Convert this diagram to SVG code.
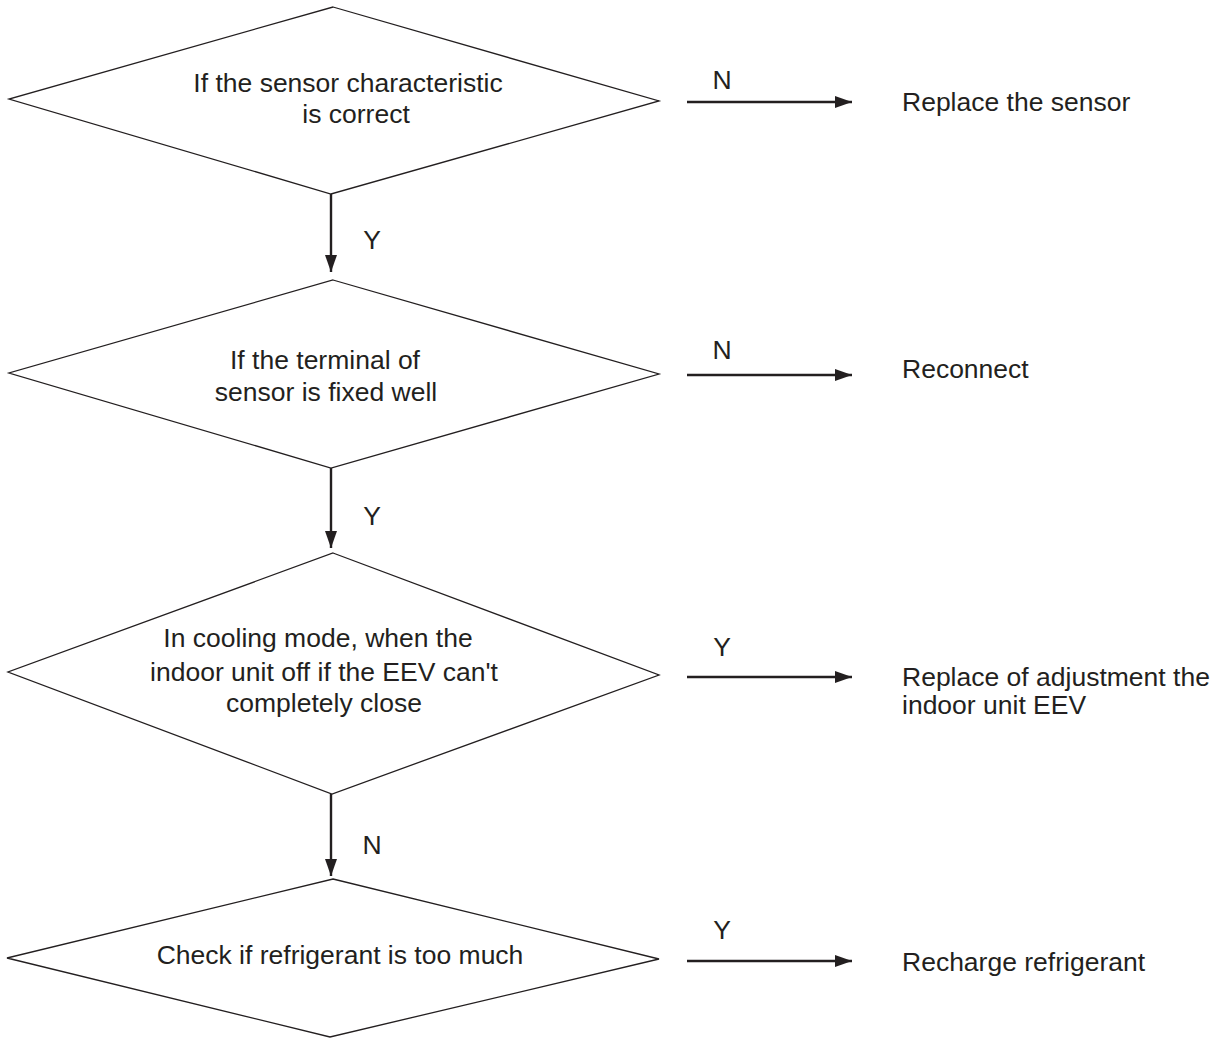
<svg xmlns="http://www.w3.org/2000/svg" width="1219" height="1038" viewBox="0 0 1219 1038">
<defs>
<marker id="ah" markerWidth="18" markerHeight="12" refX="17" refY="6" orient="auto" markerUnits="userSpaceOnUse">
<path d="M0,0 L17,6 L0,12 Z" fill="#231f20"/>
</marker>
<style>
.d{fill:#fff;stroke:#231f20;stroke-width:1.3}
.t{font-family:"Liberation Sans",Arial,sans-serif;font-size:26.5px;fill:#231f20}
.c{text-anchor:middle}
.a{stroke:#231f20;stroke-width:2.4;fill:none;marker-end:url(#ah)}
</style>
</defs>
<rect width="1219" height="1038" fill="#fff"/>
<g id="d1">
<polygon class="d" points="333,7 659,101 331,194 9,99"/>
<text class="t c" x="348" y="92">If the sensor characteristic</text>
<text class="t c" x="356" y="123">is correct</text>
</g>
<g id="r1"><text class="t" x="902" y="111">Replace the sensor</text></g>
<g id="d2">
<polygon class="d" points="333,280 659,374 331,468 9,373"/>
<text class="t c" x="325" y="369">If the terminal of</text>
<text class="t c" x="326" y="401">sensor is fixed well</text>
</g>
<g id="r2"><text class="t" x="902" y="378">Reconnect</text></g>
<g id="d3">
<polygon class="d" points="333,553 659,675 332,794 8,672"/>
<text class="t c" x="318" y="647">In cooling mode, when the</text>
<text class="t c" x="324" y="681">indoor unit off if the EEV can't</text>
<text class="t c" x="324" y="712">completely close</text>
</g>
<g id="r3">
<text class="t" x="902" y="686">Replace of adjustment the</text>
<text class="t" x="902" y="714">indoor unit EEV</text>
</g>
<g id="d4">
<polygon class="d" points="333,879 659,959 330,1037 7,958"/>
<text class="t c" x="340" y="964">Check if refrigerant is too much</text>
</g>
<g id="r4"><text class="t" x="902" y="971">Recharge refrigerant</text></g>
<g id="connectors">
<line class="a" x1="331" y1="194" x2="331" y2="272"/>
<line class="a" x1="331" y1="468" x2="331" y2="548"/>
<line class="a" x1="331" y1="794" x2="331" y2="876"/>
<line class="a" x1="687" y1="102" x2="852" y2="102"/>
<line class="a" x1="687" y1="375" x2="852" y2="375"/>
<line class="a" x1="687" y1="677" x2="852" y2="677"/>
<line class="a" x1="687" y1="961" x2="852" y2="961"/>
<text class="t c" x="372" y="249">Y</text>
<text class="t c" x="372" y="525">Y</text>
<text class="t c" x="372" y="854">N</text>
<text class="t c" x="722" y="89">N</text>
<text class="t c" x="722" y="359">N</text>
<text class="t c" x="722" y="656">Y</text>
<text class="t c" x="722" y="939">Y</text>
</g>
</svg>
